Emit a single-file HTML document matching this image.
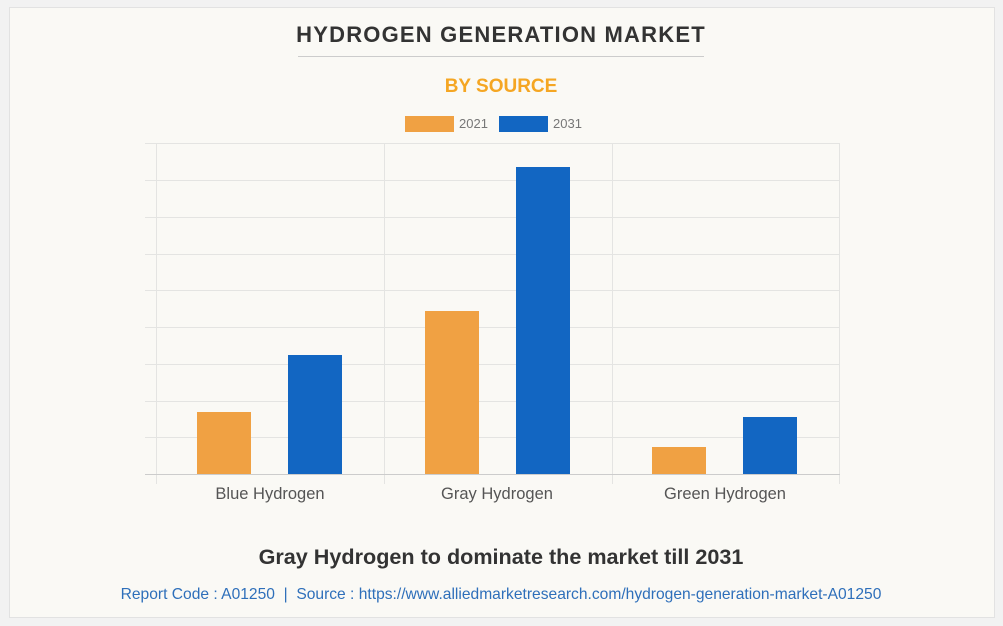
<!DOCTYPE html>
<html><head><style>
body{margin:0;width:1003px;height:626px;background:#f2f2f2;font-family:"Liberation Sans",Arial,sans-serif;overflow:hidden}
.card{position:absolute;left:9px;top:7px;width:984px;height:609px;background:#faf9f5;border:1px solid #e2e2e2}
</style></head><body>
<div class="card"></div>
<svg width="1003" height="626" style="position:absolute;left:0;top:0">
<text x="501" y="42" text-anchor="middle" font-size="22" font-weight="bold" fill="#333" letter-spacing="1.2">HYDROGEN GENERATION MARKET</text>
<line x1="298" y1="56.5" x2="704" y2="56.5" stroke="#ccc" stroke-width="1"/>
<text x="501" y="92" text-anchor="middle" font-size="19" font-weight="bold" fill="#f5a623">BY SOURCE</text>
<rect x="405" y="116" width="49" height="16" fill="#f0a143"/>
<text x="459" y="128" font-size="13" fill="#777">2021</text>
<rect x="499" y="116" width="49" height="16" fill="#1266c2"/>
<text x="553" y="128" font-size="13" fill="#777">2031</text>
<g stroke="#e4e4e2" stroke-width="1">
<line x1="145" y1="143.5" x2="840" y2="143.5"/>
<line x1="145" y1="180.5" x2="840" y2="180.5"/>
<line x1="145" y1="217.5" x2="840" y2="217.5"/>
<line x1="145" y1="254.5" x2="840" y2="254.5"/>
<line x1="145" y1="290.5" x2="840" y2="290.5"/>
<line x1="145" y1="327.5" x2="840" y2="327.5"/>
<line x1="145" y1="364.5" x2="840" y2="364.5"/>
<line x1="145" y1="401.5" x2="840" y2="401.5"/>
<line x1="145" y1="437.5" x2="840" y2="437.5"/>
<line x1="156.5" y1="143" x2="156.5" y2="484"/>
<line x1="384.5" y1="143" x2="384.5" y2="484"/>
<line x1="612.5" y1="143" x2="612.5" y2="484"/>
<line x1="839.5" y1="143" x2="839.5" y2="484"/>
</g>
<line x1="145" y1="474.5" x2="840" y2="474.5" stroke="#ccc"/>
<rect x="197" y="412" width="54" height="62" fill="#f0a143"/>
<rect x="288" y="355" width="54" height="119" fill="#1266c2"/>
<rect x="425" y="311" width="54" height="163" fill="#f0a143"/>
<rect x="516" y="167" width="54" height="307" fill="#1266c2"/>
<rect x="652" y="447" width="54" height="27" fill="#f0a143"/>
<rect x="743" y="417" width="54" height="57" fill="#1266c2"/>
<g font-size="16.5" fill="#555" text-anchor="middle">
<text x="270" y="499">Blue Hydrogen</text>
<text x="497" y="499">Gray Hydrogen</text>
<text x="725" y="499">Green Hydrogen</text>
</g>
<text x="501" y="564" text-anchor="middle" font-size="21.6" font-weight="bold" fill="#333">Gray Hydrogen to dominate the market till 2031</text>
<text x="501" y="599" text-anchor="middle" font-size="15.6" fill="#2e6fba">Report Code : A01250 &#160;| &#160;Source : https://www.alliedmarketresearch.com/hydrogen-generation-market-A01250</text>
</svg>
</body></html>
